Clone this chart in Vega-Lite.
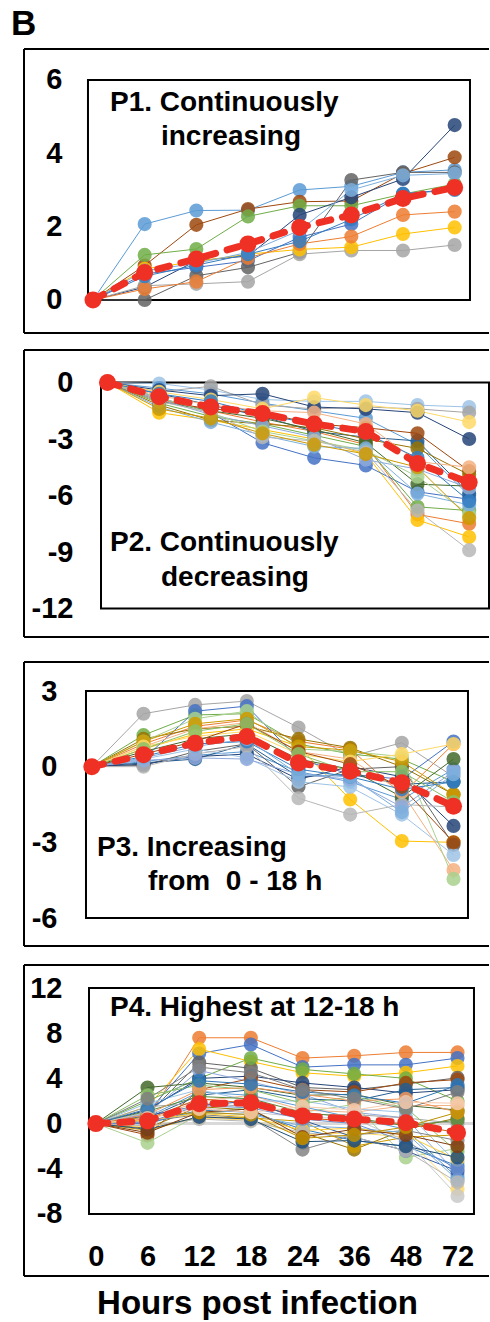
{
"$schema": "https://vega.github.io/schema/vega-lite/v6.json",
"background": "white",
"padding": {"left": 11, "right": 0, "top": 7, "bottom": 0},
"title": {"text": "B", "anchor": "start", "fontSize": 35, "font": "Liberation Sans", "fontWeight": "bold", "color": "black", "dx": -12, "offset": 6},
"datasets": {
"p1": [
{"s":"c1","h":0,"v":0},{"s":"c1","h":6,"v":2.07},{"s":"c1","h":12,"v":2.44},{"s":"c1","h":18,"v":2.45},{"s":"c1","h":24,"v":3.0},{"s":"c1","h":36,"v":3.1},{"s":"c1","h":48,"v":3.48},{"s":"c1","h":72,"v":3.55},
{"s":"c8","h":0,"v":0},{"s":"c8","h":6,"v":0.94},{"s":"c8","h":12,"v":2.05},{"s":"c8","h":18,"v":2.48},{"s":"c8","h":24,"v":2.68},{"s":"c8","h":36,"v":2.7},{"s":"c8","h":48,"v":3.45},{"s":"c8","h":72,"v":3.89},
{"s":"c6","h":0,"v":0},{"s":"c6","h":6,"v":1.23},{"s":"c6","h":12,"v":1.39},{"s":"c6","h":18,"v":2.28},{"s":"c6","h":24,"v":2.57},{"s":"c6","h":36,"v":2.57},{"s":"c6","h":48,"v":2.89},{"s":"c6","h":72,"v":3.16},
{"s":"c11","h":0,"v":0},{"s":"c11","h":6,"v":0.35},{"s":"c11","h":12,"v":1.07},{"s":"c11","h":18,"v":1.2},{"s":"c11","h":24,"v":2.32},{"s":"c11","h":36,"v":2.8},{"s":"c11","h":48,"v":3.3},{"s":"c11","h":72,"v":4.77},
{"s":"c5","h":0,"v":0},{"s":"c5","h":6,"v":0.71},{"s":"c5","h":12,"v":0.89},{"s":"c5","h":18,"v":1.07},{"s":"c5","h":24,"v":1.71},{"s":"c5","h":36,"v":2.07},{"s":"c5","h":48,"v":2.89},{"s":"c5","h":72,"v":3.03},
{"s":"c9","h":0,"v":0},{"s":"c9","h":6,"v":0.0},{"s":"c9","h":12,"v":0.66},{"s":"c9","h":18,"v":0.89},{"s":"c9","h":24,"v":1.3},{"s":"c9","h":36,"v":3.27},{"s":"c9","h":48,"v":3.48},{"s":"c9","h":72,"v":3.48},
{"s":"c3","h":0,"v":0},{"s":"c3","h":6,"v":0.39},{"s":"c3","h":12,"v":0.44},{"s":"c3","h":18,"v":0.5},{"s":"c3","h":24,"v":1.25},{"s":"c3","h":36,"v":1.35},{"s":"c3","h":48,"v":1.35},{"s":"c3","h":72,"v":1.5},
{"s":"c4","h":0,"v":0},{"s":"c4","h":6,"v":0.85},{"s":"c4","h":12,"v":1.05},{"s":"c4","h":18,"v":1.25},{"s":"c4","h":24,"v":1.38},{"s":"c4","h":36,"v":1.44},{"s":"c4","h":48,"v":1.8},{"s":"c4","h":72,"v":1.98},
{"s":"c2","h":0,"v":0},{"s":"c2","h":6,"v":0.3},{"s":"c2","h":12,"v":0.5},{"s":"c2","h":18,"v":1.15},{"s":"c2","h":24,"v":1.53},{"s":"c2","h":36,"v":1.73},{"s":"c2","h":48,"v":2.32},{"s":"c2","h":72,"v":2.41},
{"s":"c13","h":0,"v":0},{"s":"c13","h":6,"v":0.8},{"s":"c13","h":12,"v":1.0},{"s":"c13","h":18,"v":1.3},{"s":"c13","h":24,"v":1.9},{"s":"c13","h":36,"v":3.0},{"s":"c13","h":48,"v":3.4},{"s":"c13","h":72,"v":3.45},
{"s":"c19","h":0,"v":0},{"s":"c19","h":6,"v":0.65},{"s":"c19","h":12,"v":0.95},{"s":"c19","h":18,"v":1.25},{"s":"c19","h":24,"v":1.6},{"s":"c19","h":36,"v":2.2},{"s":"c19","h":48,"v":2.9},{"s":"c19","h":72,"v":3.0}
],
"p1m": [{"h":0,"v":0},{"h":6,"v":0.75},{"h":12,"v":1.12},{"h":18,"v":1.53},{"h":24,"v":1.98},{"h":36,"v":2.32},{"h":48,"v":2.77},{"h":72,"v":3.07}],
"p2": [
{"s":"c25","h":0,"v":0},{"s":"c25","h":6,"v":-0.05},{"s":"c25","h":12,"v":-0.4},{"s":"c25","h":18,"v":-0.9},{"s":"c25","h":24,"v":-1.0},{"s":"c25","h":36,"v":-1.0},{"s":"c25","h":48,"v":-1.2},{"s":"c25","h":72,"v":-1.3},
{"s":"c1","h":0,"v":0},{"s":"c1","h":6,"v":-0.3},{"s":"c1","h":12,"v":-0.6},{"s":"c1","h":18,"v":-1.1},{"s":"c1","h":24,"v":-1.5},{"s":"c1","h":36,"v":-1.9},{"s":"c1","h":48,"v":-3.3},{"s":"c1","h":72,"v":-6.0},
{"s":"c2","h":0,"v":0},{"s":"c2","h":6,"v":-0.9},{"s":"c2","h":12,"v":-1.5},{"s":"c2","h":18,"v":-2.1},{"s":"c2","h":24,"v":-2.6},{"s":"c2","h":36,"v":-3.3},{"s":"c2","h":48,"v":-7.0},{"s":"c2","h":72,"v":-7.5},
{"s":"c3","h":0,"v":0},{"s":"c3","h":6,"v":-0.5},{"s":"c3","h":12,"v":-0.2},{"s":"c3","h":18,"v":-1.2},{"s":"c3","h":24,"v":-1.4},{"s":"c3","h":36,"v":-1.3},{"s":"c3","h":48,"v":-1.4},{"s":"c3","h":72,"v":-1.6},
{"s":"c4","h":0,"v":0},{"s":"c4","h":6,"v":-1.6},{"s":"c4","h":12,"v":-2.0},{"s":"c4","h":18,"v":-2.5},{"s":"c4","h":24,"v":-3.0},{"s":"c4","h":36,"v":-3.8},{"s":"c4","h":48,"v":-7.3},{"s":"c4","h":72,"v":-8.2},
{"s":"c5","h":0,"v":0},{"s":"c5","h":6,"v":-0.8},{"s":"c5","h":12,"v":-1.6},{"s":"c5","h":18,"v":-3.2},{"s":"c5","h":24,"v":-4.0},{"s":"c5","h":36,"v":-4.4},{"s":"c5","h":48,"v":-5.8},{"s":"c5","h":72,"v":-6.2},
{"s":"c6","h":0,"v":0},{"s":"c6","h":6,"v":-1.1},{"s":"c6","h":12,"v":-1.8},{"s":"c6","h":18,"v":-2.2},{"s":"c6","h":24,"v":-2.8},{"s":"c6","h":36,"v":-3.4},{"s":"c6","h":48,"v":-6.6},{"s":"c6","h":72,"v":-6.8},
{"s":"c7","h":0,"v":0},{"s":"c7","h":6,"v":-0.6},{"s":"c7","h":12,"v":-1.2},{"s":"c7","h":18,"v":-1.8},{"s":"c7","h":24,"v":-2.6},{"s":"c7","h":36,"v":-2.9},{"s":"c7","h":48,"v":-3.1},{"s":"c7","h":72,"v":-5.9},
{"s":"c8","h":0,"v":0},{"s":"c8","h":6,"v":-1.0},{"s":"c8","h":12,"v":-1.4},{"s":"c8","h":18,"v":-1.6},{"s":"c8","h":24,"v":-2.2},{"s":"c8","h":36,"v":-2.4},{"s":"c8","h":48,"v":-2.7},{"s":"c8","h":72,"v":-4.7},
{"s":"c10","h":0,"v":0},{"s":"c10","h":6,"v":-1.2},{"s":"c10","h":12,"v":-2.0},{"s":"c10","h":18,"v":-2.2},{"s":"c10","h":24,"v":-2.4},{"s":"c10","h":36,"v":-3.0},{"s":"c10","h":48,"v":-3.5},{"s":"c10","h":72,"v":-4.9},
{"s":"c11","h":0,"v":0},{"s":"c11","h":6,"v":-0.4},{"s":"c11","h":12,"v":-0.7},{"s":"c11","h":18,"v":-0.6},{"s":"c11","h":24,"v":-1.3},{"s":"c11","h":36,"v":-1.4},{"s":"c11","h":48,"v":-1.6},{"s":"c11","h":72,"v":-3.0},
{"s":"c12","h":0,"v":0},{"s":"c12","h":6,"v":-1.0},{"s":"c12","h":12,"v":-1.5},{"s":"c12","h":18,"v":-1.9},{"s":"c12","h":24,"v":-2.5},{"s":"c12","h":36,"v":-3.2},{"s":"c12","h":48,"v":-5.4},{"s":"c12","h":72,"v":-5.5},
{"s":"c26","h":0,"v":0},{"s":"c26","h":6,"v":-0.7},{"s":"c26","h":12,"v":-1.2},{"s":"c26","h":18,"v":-1.5},{"s":"c26","h":24,"v":-1.6},{"s":"c26","h":36,"v":-2.2},{"s":"c26","h":48,"v":-4.2},{"s":"c26","h":72,"v":-4.5},
{"s":"c28","h":0,"v":0},{"s":"c28","h":6,"v":-0.5},{"s":"c28","h":12,"v":-0.9},{"s":"c28","h":18,"v":-1.4},{"s":"c28","h":24,"v":-0.8},{"s":"c28","h":36,"v":-1.2},{"s":"c28","h":48,"v":-1.5},{"s":"c28","h":72,"v":-2.1},
{"s":"c29","h":0,"v":0},{"s":"c29","h":6,"v":-0.9},{"s":"c29","h":12,"v":-1.7},{"s":"c29","h":18,"v":-2.3},{"s":"c29","h":24,"v":-2.9},{"s":"c29","h":36,"v":-4.1},{"s":"c29","h":48,"v":-4.6},{"s":"c29","h":72,"v":-5.6},
{"s":"c30","h":0,"v":0},{"s":"c30","h":6,"v":-0.8},{"s":"c30","h":12,"v":-1.6},{"s":"c30","h":18,"v":-2.6},{"s":"c30","h":24,"v":-3.1},{"s":"c30","h":36,"v":-3.6},{"s":"c30","h":48,"v":-5.0},{"s":"c30","h":72,"v":-7.0},
{"s":"c13","h":0,"v":0},{"s":"c13","h":6,"v":-1.3},{"s":"c13","h":12,"v":-2.1},{"s":"c13","h":18,"v":-2.8},{"s":"c13","h":24,"v":-3.4},{"s":"c13","h":36,"v":-3.5},{"s":"c13","h":48,"v":-5.9},{"s":"c13","h":72,"v":-6.5},
{"s":"c15","h":0,"v":0},{"s":"c15","h":6,"v":-1.0},{"s":"c15","h":12,"v":-1.6},{"s":"c15","h":18,"v":-2.9},{"s":"c15","h":24,"v":-3.1},{"s":"c15","h":36,"v":-3.7},{"s":"c15","h":48,"v":-6.8},{"s":"c15","h":72,"v":-8.9},
{"s":"c22","h":0,"v":0},{"s":"c22","h":6,"v":-1.4},{"s":"c22","h":12,"v":-1.9},{"s":"c22","h":18,"v":-2.7},{"s":"c22","h":24,"v":-3.3},{"s":"c22","h":36,"v":-3.8},{"s":"c22","h":48,"v":-4.5},{"s":"c22","h":72,"v":-7.2},
{"s":"c19","h":0,"v":0},{"s":"c19","h":6,"v":-0.6},{"s":"c19","h":12,"v":-1.0},{"s":"c19","h":18,"v":-1.7},{"s":"c19","h":24,"v":-2.2},{"s":"c19","h":36,"v":-2.7},{"s":"c19","h":48,"v":-4.0},{"s":"c19","h":72,"v":-6.3}
],
"p2m": [{"h":0,"v":0},{"h":6,"v":-0.75},{"h":12,"v":-1.3},{"h":18,"v":-1.65},{"h":24,"v":-2.2},{"h":36,"v":-2.6},{"h":48,"v":-4.3},{"h":72,"v":-5.3}],
"p3": [
{"s":"c3","h":0,"v":0},{"s":"c3","h":6,"v":2.1},{"s":"c3","h":12,"v":2.45},{"s":"c3","h":18,"v":2.6},{"s":"c3","h":24,"v":1.55},{"s":"c3","h":36,"v":0.4},{"s":"c3","h":48,"v":0.95},{"s":"c3","h":72,"v":-0.4},
{"s":"c6","h":0,"v":0},{"s":"c6","h":6,"v":1.25},{"s":"c6","h":12,"v":2.05},{"s":"c6","h":18,"v":2.1},{"s":"c6","h":24,"v":0.9},{"s":"c6","h":36,"v":0.5},{"s":"c6","h":48,"v":0.3},{"s":"c6","h":72,"v":-0.6},
{"s":"c2","h":0,"v":0},{"s":"c2","h":6,"v":0.9},{"s":"c2","h":12,"v":1.6},{"s":"c2","h":18,"v":1.85},{"s":"c2","h":24,"v":1.0},{"s":"c2","h":36,"v":0.7},{"s":"c2","h":48,"v":-1.1},{"s":"c2","h":72,"v":0.9},
{"s":"c4","h":0,"v":0},{"s":"c4","h":6,"v":0.7},{"s":"c4","h":12,"v":1.3},{"s":"c4","h":18,"v":1.5},{"s":"c4","h":24,"v":0.8},{"s":"c4","h":36,"v":-1.3},{"s":"c4","h":48,"v":-2.95},{"s":"c4","h":72,"v":-3.0},
{"s":"c5","h":0,"v":0},{"s":"c5","h":6,"v":0.3},{"s":"c5","h":12,"v":2.2},{"s":"c5","h":18,"v":2.4},{"s":"c5","h":24,"v":0.3},{"s":"c5","h":36,"v":-0.3},{"s":"c5","h":48,"v":-0.5},{"s":"c5","h":72,"v":1.0},
{"s":"c10","h":0,"v":0},{"s":"c10","h":6,"v":1.1},{"s":"c10","h":12,"v":1.5},{"s":"c10","h":18,"v":1.6},{"s":"c10","h":24,"v":1.1},{"s":"c10","h":36,"v":0.75},{"s":"c10","h":48,"v":0.0},{"s":"c10","h":72,"v":-1.1},
{"s":"c1","h":0,"v":0},{"s":"c1","h":6,"v":0.2},{"s":"c1","h":12,"v":0.45},{"s":"c1","h":18,"v":0.6},{"s":"c1","h":24,"v":-0.2},{"s":"c1","h":36,"v":-0.6},{"s":"c1","h":48,"v":-1.3},{"s":"c1","h":72,"v":-0.1},
{"s":"c7","h":0,"v":0},{"s":"c7","h":6,"v":0.15},{"s":"c7","h":12,"v":0.3},{"s":"c7","h":18,"v":0.9},{"s":"c7","h":24,"v":-0.4},{"s":"c7","h":36,"v":-0.3},{"s":"c7","h":48,"v":-0.7},{"s":"c7","h":72,"v":-0.6},
{"s":"c9","h":0,"v":0},{"s":"c9","h":6,"v":0.05},{"s":"c9","h":12,"v":0.6},{"s":"c9","h":18,"v":0.9},{"s":"c9","h":24,"v":-0.8},{"s":"c9","h":36,"v":-0.1},{"s":"c9","h":48,"v":0.0},{"s":"c9","h":72,"v":-3.1},
{"s":"c11","h":0,"v":0},{"s":"c11","h":6,"v":0.1},{"s":"c11","h":12,"v":0.4},{"s":"c11","h":18,"v":0.5},{"s":"c11","h":24,"v":-0.5},{"s":"c11","h":36,"v":0.0},{"s":"c11","h":48,"v":-0.4},{"s":"c11","h":72,"v":-2.35},
{"s":"c12","h":0,"v":0},{"s":"c12","h":6,"v":0.6},{"s":"c12","h":12,"v":1.1},{"s":"c12","h":18,"v":1.3},{"s":"c12","h":24,"v":0.3},{"s":"c12","h":36,"v":-0.1},{"s":"c12","h":48,"v":-1.2},{"s":"c12","h":72,"v":0.3},
{"s":"c25","h":0,"v":0},{"s":"c25","h":6,"v":0.3},{"s":"c25","h":12,"v":0.7},{"s":"c25","h":18,"v":0.35},{"s":"c25","h":24,"v":-0.6},{"s":"c25","h":36,"v":-0.8},{"s":"c25","h":48,"v":-1.9},{"s":"c25","h":72,"v":-3.5},
{"s":"c26","h":0,"v":0},{"s":"c26","h":6,"v":0.8},{"s":"c26","h":12,"v":1.5},{"s":"c26","h":18,"v":1.75},{"s":"c26","h":24,"v":0.6},{"s":"c26","h":36,"v":0.3},{"s":"c26","h":48,"v":-1.0},{"s":"c26","h":72,"v":-4.1},
{"s":"c30","h":0,"v":0},{"s":"c30","h":6,"v":1.0},{"s":"c30","h":12,"v":1.9},{"s":"c30","h":18,"v":2.2},{"s":"c30","h":24,"v":0.7},{"s":"c30","h":36,"v":0.6},{"s":"c30","h":48,"v":0.4},{"s":"c30","h":72,"v":-4.45},
{"s":"c15","h":0,"v":0},{"s":"c15","h":6,"v":0.0},{"s":"c15","h":12,"v":0.5},{"s":"c15","h":18,"v":0.8},{"s":"c15","h":24,"v":-1.25},{"s":"c15","h":36,"v":-1.9},{"s":"c15","h":48,"v":-1.5},{"s":"c15","h":72,"v":-1.6},
{"s":"c29","h":0,"v":0},{"s":"c29","h":6,"v":0.25},{"s":"c29","h":12,"v":0.35},{"s":"c29","h":18,"v":0.3},{"s":"c29","h":24,"v":-0.3},{"s":"c29","h":36,"v":-0.5},{"s":"c29","h":48,"v":-1.6},{"s":"c29","h":72,"v":-0.2},
{"s":"c22","h":0,"v":0},{"s":"c22","h":6,"v":1.0},{"s":"c22","h":12,"v":1.7},{"s":"c22","h":18,"v":1.9},{"s":"c22","h":24,"v":0.8},{"s":"c22","h":36,"v":0.65},{"s":"c22","h":48,"v":0.2},{"s":"c22","h":72,"v":-1.1},
{"s":"c19","h":0,"v":0},{"s":"c19","h":6,"v":0.4},{"s":"c19","h":12,"v":0.9},{"s":"c19","h":18,"v":1.0},{"s":"c19","h":24,"v":-0.1},{"s":"c19","h":36,"v":-0.4},{"s":"c19","h":48,"v":-0.9},{"s":"c19","h":72,"v":-0.6},
{"s":"c28","h":0,"v":0},{"s":"c28","h":6,"v":0.8},{"s":"c28","h":12,"v":1.2},{"s":"c28","h":18,"v":1.4},{"s":"c28","h":24,"v":0.5},{"s":"c28","h":36,"v":0.2},{"s":"c28","h":48,"v":0.5},{"s":"c28","h":72,"v":0.9},
{"s":"c8","h":0,"v":0},{"s":"c8","h":6,"v":0.5},{"s":"c8","h":12,"v":1.0},{"s":"c8","h":18,"v":1.7},{"s":"c8","h":24,"v":0.6},{"s":"c8","h":36,"v":0.1},{"s":"c8","h":48,"v":-0.8},{"s":"c8","h":72,"v":-3.0},
{"s":"c13","h":0,"v":0},{"s":"c13","h":6,"v":0.35},{"s":"c13","h":12,"v":0.8},{"s":"c13","h":18,"v":1.1},{"s":"c13","h":24,"v":-0.3},{"s":"c13","h":36,"v":-0.4},{"s":"c13","h":48,"v":-1.8},{"s":"c13","h":72,"v":-0.3},
{"s":"c18","h":0,"v":0},{"s":"c18","h":6,"v":0.7},{"s":"c18","h":12,"v":1.4},{"s":"c18","h":18,"v":1.7},{"s":"c18","h":24,"v":0.5},{"s":"c18","h":36,"v":-0.2},{"s":"c18","h":48,"v":-0.2},{"s":"c18","h":72,"v":-1.4}
],
"p3m": [{"h":0,"v":0},{"h":6,"v":0.47},{"h":12,"v":0.93},{"h":18,"v":1.2},{"h":24,"v":0.15},{"h":36,"v":-0.18},{"h":48,"v":-0.64},{"h":72,"v":-1.57}],
"p4": [
{"s":"c2","h":0,"v":0},{"s":"c2","h":6,"v":0.5},{"s":"c2","h":12,"v":7.6},{"s":"c2","h":18,"v":7.6},{"s":"c2","h":24,"v":5.8},{"s":"c2","h":36,"v":6.0},{"s":"c2","h":48,"v":6.3},{"s":"c2","h":72,"v":6.3},
{"s":"c5","h":0,"v":0},{"s":"c5","h":6,"v":1.0},{"s":"c5","h":12,"v":6.2},{"s":"c5","h":18,"v":7.0},{"s":"c5","h":24,"v":5.0},{"s":"c5","h":36,"v":5.2},{"s":"c5","h":48,"v":5.2},{"s":"c5","h":72,"v":5.8},
{"s":"c4","h":0,"v":0},{"s":"c4","h":6,"v":1.5},{"s":"c4","h":12,"v":6.6},{"s":"c4","h":18,"v":5.5},{"s":"c4","h":24,"v":4.5},{"s":"c4","h":36,"v":4.2},{"s":"c4","h":48,"v":4.5},{"s":"c4","h":72,"v":5.1},
{"s":"c9","h":0,"v":0},{"s":"c9","h":6,"v":0.8},{"s":"c9","h":12,"v":5.4},{"s":"c9","h":18,"v":4.9},{"s":"c9","h":24,"v":3.2},{"s":"c9","h":36,"v":3.0},{"s":"c9","h":48,"v":3.5},{"s":"c9","h":72,"v":4.05},
{"s":"c6","h":0,"v":0},{"s":"c6","h":6,"v":2.0},{"s":"c6","h":12,"v":4.0},{"s":"c6","h":18,"v":5.8},{"s":"c6","h":24,"v":4.8},{"s":"c6","h":36,"v":4.4},{"s":"c6","h":48,"v":4.0},{"s":"c6","h":72,"v":2.0},
{"s":"c12","h":0,"v":0},{"s":"c12","h":6,"v":3.2},{"s":"c12","h":12,"v":3.6},{"s":"c12","h":18,"v":3.2},{"s":"c12","h":24,"v":2.5},{"s":"c12","h":36,"v":2.6},{"s":"c12","h":48,"v":1.6},{"s":"c12","h":72,"v":1.2},
{"s":"c11","h":0,"v":0},{"s":"c11","h":6,"v":1.2},{"s":"c11","h":12,"v":4.0},{"s":"c11","h":18,"v":4.2},{"s":"c11","h":24,"v":3.6},{"s":"c11","h":36,"v":3.2},{"s":"c11","h":48,"v":2.7},{"s":"c11","h":72,"v":3.0},
{"s":"c29","h":0,"v":0},{"s":"c29","h":6,"v":0.9},{"s":"c29","h":12,"v":4.7},{"s":"c29","h":18,"v":3.7},{"s":"c29","h":24,"v":2.6},{"s":"c29","h":36,"v":1.0},{"s":"c29","h":48,"v":0.5},{"s":"c29","h":72,"v":-4.5},
{"s":"c8","h":0,"v":0},{"s":"c8","h":6,"v":-1.0},{"s":"c8","h":12,"v":3.0},{"s":"c8","h":18,"v":4.0},{"s":"c8","h":24,"v":3.0},{"s":"c8","h":36,"v":2.8},{"s":"c8","h":48,"v":3.6},{"s":"c8","h":72,"v":3.9},
{"s":"c7","h":0,"v":0},{"s":"c7","h":6,"v":0.5},{"s":"c7","h":12,"v":2.5},{"s":"c7","h":18,"v":3.0},{"s":"c7","h":24,"v":2.2},{"s":"c7","h":36,"v":2.0},{"s":"c7","h":48,"v":3.0},{"s":"c7","h":72,"v":3.2},
{"s":"c10","h":0,"v":0},{"s":"c10","h":6,"v":-0.4},{"s":"c10","h":12,"v":1.5},{"s":"c10","h":18,"v":1.2},{"s":"c10","h":24,"v":-0.8},{"s":"c10","h":36,"v":-2.3},{"s":"c10","h":48,"v":-0.5},{"s":"c10","h":72,"v":0.5},
{"s":"c30","h":0,"v":0},{"s":"c30","h":6,"v":-1.7},{"s":"c30","h":12,"v":0.8},{"s":"c30","h":18,"v":1.5},{"s":"c30","h":24,"v":1.0},{"s":"c30","h":36,"v":1.7},{"s":"c30","h":48,"v":-3.0},{"s":"c30","h":72,"v":-2.2},
{"s":"c26","h":0,"v":0},{"s":"c26","h":6,"v":0.3},{"s":"c26","h":12,"v":2.0},{"s":"c26","h":18,"v":2.5},{"s":"c26","h":24,"v":1.2},{"s":"c26","h":36,"v":1.0},{"s":"c26","h":48,"v":1.6},{"s":"c26","h":72,"v":1.6},
{"s":"c1","h":0,"v":0},{"s":"c1","h":6,"v":0.6},{"s":"c1","h":12,"v":2.8},{"s":"c1","h":18,"v":2.5},{"s":"c1","h":24,"v":1.5},{"s":"c1","h":36,"v":0.5},{"s":"c1","h":48,"v":-0.5},{"s":"c1","h":72,"v":-4.8},
{"s":"c3","h":0,"v":0},{"s":"c3","h":6,"v":1.5},{"s":"c3","h":12,"v":1.8},{"s":"c3","h":18,"v":1.5},{"s":"c3","h":24,"v":0.8},{"s":"c3","h":36,"v":0.8},{"s":"c3","h":48,"v":0.5},{"s":"c3","h":72,"v":0.0},
{"s":"c28","h":0,"v":0},{"s":"c28","h":6,"v":-0.3},{"s":"c28","h":12,"v":0.5},{"s":"c28","h":18,"v":0.3},{"s":"c28","h":24,"v":-1.0},{"s":"c28","h":36,"v":-0.8},{"s":"c28","h":48,"v":-1.2},{"s":"c28","h":72,"v":-5.8},
{"s":"c25","h":0,"v":0},{"s":"c25","h":6,"v":1.8},{"s":"c25","h":12,"v":3.0},{"s":"c25","h":18,"v":2.0},{"s":"c25","h":24,"v":2.0},{"s":"c25","h":36,"v":1.3},{"s":"c25","h":48,"v":1.0},{"s":"c25","h":72,"v":-3.5},
{"s":"c21","h":0,"v":0},{"s":"c21","h":6,"v":0.2},{"s":"c21","h":12,"v":0.8},{"s":"c21","h":18,"v":0.5},{"s":"c21","h":24,"v":-2.3},{"s":"c21","h":36,"v":-1.0},{"s":"c21","h":48,"v":-0.6},{"s":"c21","h":72,"v":-1.5},
{"s":"c19","h":0,"v":0},{"s":"c19","h":6,"v":0.0},{"s":"c19","h":12,"v":1.2},{"s":"c19","h":18,"v":1.0},{"s":"c19","h":24,"v":-0.5},{"s":"c19","h":36,"v":-1.5},{"s":"c19","h":48,"v":-2.0},{"s":"c19","h":72,"v":-3.75},
{"s":"c18","h":0,"v":0},{"s":"c18","h":6,"v":2.5},{"s":"c18","h":12,"v":3.4},{"s":"c18","h":18,"v":3.0},{"s":"c18","h":24,"v":1.8},{"s":"c18","h":36,"v":2.4},{"s":"c18","h":48,"v":1.4},{"s":"c18","h":72,"v":-2.5},
{"s":"c22","h":0,"v":0},{"s":"c22","h":6,"v":-0.6},{"s":"c22","h":12,"v":0.6},{"s":"c22","h":18,"v":0.5},{"s":"c22","h":24,"v":0.2},{"s":"c22","h":36,"v":-2.0},{"s":"c22","h":48,"v":-1.2},{"s":"c22","h":72,"v":-1.0},
{"s":"c20","h":0,"v":0},{"s":"c20","h":6,"v":0.4},{"s":"c20","h":12,"v":2.2},{"s":"c20","h":18,"v":1.8},{"s":"c20","h":24,"v":0.5},{"s":"c20","h":36,"v":0.2},{"s":"c20","h":48,"v":0.0},{"s":"c20","h":72,"v":-0.8},
{"s":"c23","h":0,"v":0},{"s":"c23","h":6,"v":0.7},{"s":"c23","h":12,"v":1.6},{"s":"c23","h":18,"v":2.0},{"s":"c23","h":24,"v":0.3},{"s":"c23","h":36,"v":-1.2},{"s":"c23","h":48,"v":-2.4},{"s":"c23","h":72,"v":-4.2},
{"s":"c24","h":0,"v":0},{"s":"c24","h":6,"v":1.1},{"s":"c24","h":12,"v":2.4},{"s":"c24","h":18,"v":2.2},{"s":"c24","h":24,"v":1.0},{"s":"c24","h":36,"v":0.5},{"s":"c24","h":48,"v":-0.2},{"s":"c24","h":72,"v":0.3},
{"s":"c13","h":0,"v":0},{"s":"c13","h":6,"v":0.2},{"s":"c13","h":12,"v":1.0},{"s":"c13","h":18,"v":0.8},{"s":"c13","h":24,"v":-0.2},{"s":"c13","h":36,"v":-0.4},{"s":"c13","h":48,"v":-0.8},{"s":"c13","h":72,"v":-5.0},
{"s":"c14","h":0,"v":0},{"s":"c14","h":6,"v":0.8},{"s":"c14","h":12,"v":3.0},{"s":"c14","h":18,"v":3.2},{"s":"c14","h":24,"v":2.6},{"s":"c14","h":36,"v":2.0},{"s":"c14","h":48,"v":2.2},{"s":"c14","h":72,"v":1.0},
{"s":"c27","h":0,"v":0},{"s":"c27","h":6,"v":1.0},{"s":"c27","h":12,"v":1.4},{"s":"c27","h":18,"v":1.0},{"s":"c27","h":24,"v":0.6},{"s":"c27","h":36,"v":0.4},{"s":"c27","h":48,"v":-1.5},{"s":"c27","h":72,"v":-6.4},
{"s":"c16","h":0,"v":0},{"s":"c16","h":6,"v":0.3},{"s":"c16","h":12,"v":0.9},{"s":"c16","h":18,"v":0.6},{"s":"c16","h":24,"v":-0.6},{"s":"c16","h":36,"v":-0.4},{"s":"c16","h":48,"v":-1.0},{"s":"c16","h":72,"v":-3.2},
{"s":"c17","h":0,"v":0},{"s":"c17","h":6,"v":0.1},{"s":"c17","h":12,"v":1.6},{"s":"c17","h":18,"v":1.4},{"s":"c17","h":24,"v":0.4},{"s":"c17","h":36,"v":0.0},{"s":"c17","h":48,"v":-1.6},{"s":"c17","h":72,"v":-4.0},
{"s":"c15","h":0,"v":0},{"s":"c15","h":6,"v":-0.2},{"s":"c15","h":12,"v":0.4},{"s":"c15","h":18,"v":0.2},{"s":"c15","h":24,"v":-0.8},{"s":"c15","h":36,"v":-1.2},{"s":"c15","h":48,"v":-2.4},{"s":"c15","h":72,"v":-5.2},
{"s":"c31","h":0,"v":0},{"s":"c31","h":6,"v":-0.5},{"s":"c31","h":12,"v":0.6},{"s":"c31","h":18,"v":0.4},{"s":"c31","h":24,"v":-1.6},{"s":"c31","h":36,"v":-1.5},{"s":"c31","h":48,"v":-2.0},{"s":"c31","h":72,"v":-3.0},
{"s":"c32","h":0,"v":0},{"s":"c32","h":6,"v":-0.8},{"s":"c32","h":12,"v":1.0},{"s":"c32","h":18,"v":1.3},{"s":"c32","h":24,"v":-1.2},{"s":"c32","h":36,"v":-0.5},{"s":"c32","h":48,"v":-1.0},{"s":"c32","h":72,"v":-2.0},
{"s":"c33","h":0,"v":0},{"s":"c33","h":6,"v":0.6},{"s":"c33","h":12,"v":1.0},{"s":"c33","h":18,"v":0.8},{"s":"c33","h":24,"v":-1.3},{"s":"c33","h":36,"v":-1.0},{"s":"c33","h":48,"v":-0.3},{"s":"c33","h":72,"v":1.0},
{"s":"c34","h":0,"v":0},{"s":"c34","h":6,"v":1.3},{"s":"c34","h":12,"v":3.8},{"s":"c34","h":18,"v":3.5},{"s":"c34","h":24,"v":2.8},{"s":"c34","h":36,"v":2.5},{"s":"c34","h":48,"v":1.8},{"s":"c34","h":72,"v":3.4},
{"s":"c35","h":0,"v":0},{"s":"c35","h":6,"v":2.2},{"s":"c35","h":12,"v":5.0},{"s":"c35","h":18,"v":4.5},{"s":"c35","h":24,"v":3.0},{"s":"c35","h":36,"v":2.2},{"s":"c35","h":48,"v":1.3},{"s":"c35","h":72,"v":2.8},
{"s":"c36","h":0,"v":0},{"s":"c36","h":6,"v":0.5},{"s":"c36","h":12,"v":1.3},{"s":"c36","h":18,"v":1.0},{"s":"c36","h":24,"v":1.5},{"s":"c36","h":36,"v":1.2},{"s":"c36","h":48,"v":1.9},{"s":"c36","h":72,"v":1.8}
],
"p4m": [{"h":0,"v":0},{"h":6,"v":0.23},{"h":12,"v":1.75},{"h":18,"v":1.85},{"h":24,"v":0.67},{"h":36,"v":0.4},{"h":48,"v":0.08},{"h":72,"v":-0.8}]
},
"columns": 1,
"spacing": 23,
"concat": [
{"columns": 1, "spacing": 15, "concat": [
{
"width": 465, "height": 284,
"resolve": {"scale": {"x": "independent"}},
"layer": [
{"data": {"values": [{}]},
 "encoding": {
  "x": {"datum": 0, "type": "quantitative", "scale": {"domain": [0, 1], "nice": false, "zero": false}, "axis": null},
  "y": {"datum": 6.845, "type": "quantitative", "scale": {"domain": [-0.9, 6.845], "nice": false, "zero": false}}
 },
 "layer": [
  {"mark": {"type": "rule", "color": "black", "strokeWidth": 2}, "encoding": {"x2": {"datum": 1}}},
  {"mark": {"type": "rule", "color": "black", "strokeWidth": 2}, "encoding": {"x2": {"datum": 1}, "y": {"datum": -0.9, "type": "quantitative"}}},
  {"mark": {"type": "rule", "color": "black", "strokeWidth": 2}, "encoding": {"y": {"datum": -0.9, "type": "quantitative"}, "y2": {"datum": 6.845}}},
  {"mark": {"type": "rect", "filled": false, "stroke": "black", "strokeWidth": 2}, "encoding": {"x": {"datum": 0.1376, "type": "quantitative"}, "x2": {"datum": 0.9591}, "y": {"datum": 0, "type": "quantitative"}, "y2": {"datum": 6}}},
  {"mark": {"type": "text", "text": "P1. Continuously", "align": "left", "baseline": "alphabetic", "fontSize": 28, "fontWeight": "bold", "font": "Liberation Sans", "color": "black"}, "encoding": {"x": {"datum": 0.1849, "type": "quantitative"}, "y": {"datum": 5.15, "type": "quantitative"}}},
  {"mark": {"type": "text", "text": "increasing", "align": "left", "baseline": "alphabetic", "fontSize": 28, "fontWeight": "bold", "font": "Liberation Sans", "color": "black"}, "encoding": {"x": {"datum": 0.2946, "type": "quantitative"}, "y": {"datum": 4.23, "type": "quantitative"}}}
 ]},
{"data": {"name": "p1"},
 "encoding": {
  "x": {"field": "h", "type": "ordinal", "scale": {"type": "point", "padding": 1.3845, "align": 0.6677, "domain": [0, 6, 12, 18, 24, 36, 48, 72]}, "axis": null},
  "y": {"field": "v", "type": "quantitative", "scale": {"domain": [-0.9, 6.845], "nice": false, "zero": false}, "axis": {"values": [0, 2, 4, 6], "title": null, "offset": -38, "labelPadding": 0}}
 },
 "layer": [
  {"mark": {"type": "line", "strokeWidth": 1}, "encoding": {"color": {"field": "s", "type": "nominal", "legend": null, "scale": {"domain": ["c1","c2","c3","c4","c5","c6","c7","c8","c9","c10","c11","c12","c13","c14","c15","c16","c17","c18","c19","c20","c21","c22","c23","c24","c25","c26","c27","c28","c29","c30","c31","c32","c33","c34","c35","c36"], "range": ["#5B9BD5","#ED7D31","#A5A5A5","#FFC000","#4472C4","#70AD47","#255E91","#9E480E","#636363","#997300","#264478","#43682B","#7CAFDD","#F1975A","#B7B7B7","#FFCD33","#698ED0","#8CC168","#327DC2","#D26012","#848484","#CC9A00","#335AA1","#5A8A39","#9DC3E6","#F4B183","#C9C9C9","#FFD966","#8FAADC","#A9D18E","#1F4E79","#843C0C","#BF9000","#2E75B6","#7F7F7F","#F8CBAD"]}}}},
  {"mark": {"type": "circle", "size": 200, "opacity": 0.85}, "encoding": {"color": {"field": "s", "type": "nominal", "legend": null}}},
  {"data": {"name": "p1m"}, "mark": {"type": "line", "color": "#EE3124", "strokeWidth": 7, "strokeDash": [12, 12], "strokeCap": "round"}},
  {"data": {"name": "p1m"}, "mark": {"type": "circle", "color": "#EE3124", "size": 290, "opacity": 1}}
 ]}
]
},
{
"width": 465, "height": 287,
"resolve": {"scale": {"x": "independent"}},
"layer": [
{"data": {"values": [{}]},
 "encoding": {
  "x": {"datum": 0, "type": "quantitative", "scale": {"domain": [0, 1], "nice": false, "zero": false}, "axis": null},
  "y": {"datum": 1.726, "type": "quantitative", "scale": {"domain": [-13.51, 1.726], "nice": false, "zero": false}}
 },
 "layer": [
  {"mark": {"type": "rule", "color": "black", "strokeWidth": 2}, "encoding": {"x2": {"datum": 1}}},
  {"mark": {"type": "rule", "color": "black", "strokeWidth": 2}, "encoding": {"x2": {"datum": 1}, "y": {"datum": -13.51, "type": "quantitative"}}},
  {"mark": {"type": "rule", "color": "black", "strokeWidth": 2}, "encoding": {"y": {"datum": -13.51, "type": "quantitative"}, "y2": {"datum": 1.726}}},
  {"mark": {"type": "rect", "filled": false, "stroke": "black", "strokeWidth": 2}, "encoding": {"x": {"datum": 0.1656, "type": "quantitative"}, "x2": {"datum": 1.0}, "y": {"datum": -12, "type": "quantitative"}, "y2": {"datum": 0}}},
  {"mark": {"type": "text", "text": "P2. Continuously", "align": "left", "baseline": "alphabetic", "fontSize": 28, "fontWeight": "bold", "font": "Liberation Sans", "color": "black"}, "encoding": {"x": {"datum": 0.1849, "type": "quantitative"}, "y": {"datum": -8.95, "type": "quantitative"}}},
  {"mark": {"type": "text", "text": "decreasing", "align": "left", "baseline": "alphabetic", "fontSize": 28, "fontWeight": "bold", "font": "Liberation Sans", "color": "black"}, "encoding": {"x": {"datum": 0.2946, "type": "quantitative"}, "y": {"datum": -10.81, "type": "quantitative"}}}
 ]},
{"data": {"name": "p2"},
 "encoding": {
  "x": {"field": "h", "type": "ordinal", "scale": {"type": "point", "padding": 1.2868, "align": 0.808, "domain": [0, 6, 12, 18, 24, 36, 48, 72]}, "axis": null},
  "y": {"field": "v", "type": "quantitative", "scale": {"domain": [-13.51, 1.726], "nice": false, "zero": false}, "axis": {"values": [0, -3, -6, -9, -12], "title": null, "offset": -49, "labelPadding": 0, "labelExpr": "replace(datum.label, '\u2212', '-')"}}
 },
 "layer": [
  {"mark": {"type": "line", "strokeWidth": 1}, "encoding": {"color": {"field": "s", "type": "nominal", "legend": null}}},
  {"mark": {"type": "circle", "size": 200, "opacity": 0.85}, "encoding": {"color": {"field": "s", "type": "nominal", "legend": null}}},
  {"data": {"name": "p2m"}, "mark": {"type": "line", "color": "#EE3124", "strokeWidth": 7, "strokeDash": [12, 12], "strokeCap": "round"}},
  {"data": {"name": "p2m"}, "mark": {"type": "circle", "color": "#EE3124", "size": 290, "opacity": 1}}
 ]}
]
}
]},
{"columns": 1, "spacing": 17, "concat": [
{
"width": 465, "height": 284,
"resolve": {"scale": {"x": "independent"}},
"layer": [
{"data": {"values": [{}]},
 "encoding": {
  "x": {"datum": 0, "type": "quantitative", "scale": {"domain": [0, 1], "nice": false, "zero": false}, "axis": null},
  "y": {"datum": 4.15, "type": "quantitative", "scale": {"domain": [-7.11, 4.15], "nice": false, "zero": false}}
 },
 "layer": [
  {"mark": {"type": "rule", "color": "black", "strokeWidth": 2}, "encoding": {"x2": {"datum": 1}}},
  {"mark": {"type": "rule", "color": "black", "strokeWidth": 2}, "encoding": {"x2": {"datum": 1}, "y": {"datum": -7.11, "type": "quantitative"}}},
  {"mark": {"type": "rule", "color": "black", "strokeWidth": 2}, "encoding": {"y": {"datum": -7.11, "type": "quantitative"}, "y2": {"datum": 4.15}}},
  {"mark": {"type": "rect", "filled": false, "stroke": "black", "strokeWidth": 2}, "encoding": {"x": {"datum": 0.1333, "type": "quantitative"}, "x2": {"datum": 0.9548}, "y": {"datum": -6, "type": "quantitative"}, "y2": {"datum": 3}}},
  {"mark": {"type": "text", "text": "P3. Increasing", "align": "left", "baseline": "alphabetic", "fontSize": 28, "fontWeight": "bold", "font": "Liberation Sans", "color": "black"}, "encoding": {"x": {"datum": 0.157, "type": "quantitative"}, "y": {"datum": -3.54, "type": "quantitative"}}},
  {"mark": {"type": "text", "text": "from\u00a0 0 - 18 h", "align": "left", "baseline": "alphabetic", "fontSize": 28, "fontWeight": "bold", "font": "Liberation Sans", "color": "black"}, "encoding": {"x": {"datum": 0.2667, "type": "quantitative"}, "y": {"datum": -4.89, "type": "quantitative"}}}
 ]},
{"data": {"name": "p3"},
 "encoding": {
  "x": {"field": "h", "type": "ordinal", "scale": {"type": "point", "padding": 1.3727, "align": 0.6565, "domain": [0, 6, 12, 18, 24, 36, 48, 72]}, "axis": null},
  "y": {"field": "v", "type": "quantitative", "scale": {"domain": [-7.11, 4.15], "nice": false, "zero": false}, "axis": {"values": [3, 0, -3, -6], "title": null, "offset": -33, "labelPadding": 0, "labelExpr": "replace(datum.label, '\u2212', '-')"}}
 },
 "layer": [
  {"mark": {"type": "line", "strokeWidth": 1}, "encoding": {"color": {"field": "s", "type": "nominal", "legend": null}}},
  {"mark": {"type": "circle", "size": 200, "opacity": 0.85}, "encoding": {"color": {"field": "s", "type": "nominal", "legend": null}}},
  {"data": {"name": "p3m"}, "mark": {"type": "line", "color": "#EE3124", "strokeWidth": 7, "strokeDash": [12, 12], "strokeCap": "round"}},
  {"data": {"name": "p3m"}, "mark": {"type": "circle", "color": "#EE3124", "size": 290, "opacity": 1}}
 ]}
]
},
{
"width": 465, "height": 311,
"resolve": {"scale": {"x": "independent"}},
"layer": [
{"data": {"values": [{}]},
 "encoding": {
  "x": {"datum": 0, "type": "quantitative", "scale": {"domain": [0, 1], "nice": false, "zero": false}, "axis": null},
  "y": {"datum": 14.04, "type": "quantitative", "scale": {"domain": [-13.49, 14.04], "nice": false, "zero": false}}
 },
 "layer": [
  {"mark": {"type": "rule", "color": "black", "strokeWidth": 2}, "encoding": {"x2": {"datum": 1}}},
  {"mark": {"type": "rule", "color": "black", "strokeWidth": 2}, "encoding": {"x2": {"datum": 1}, "y": {"datum": -13.49, "type": "quantitative"}}},
  {"mark": {"type": "rule", "color": "black", "strokeWidth": 2}, "encoding": {"y": {"datum": -13.49, "type": "quantitative"}, "y2": {"datum": 14.04}}},
  {"mark": {"type": "rule", "color": "#D9D9D9", "strokeWidth": 3}, "encoding": {"x": {"datum": 0.1398, "type": "quantitative"}, "x2": {"datum": 0.9677}, "y": {"datum": 0, "type": "quantitative"}}},
  {"mark": {"type": "rect", "filled": false, "stroke": "black", "strokeWidth": 2}, "encoding": {"x": {"datum": 0.1398, "type": "quantitative"}, "x2": {"datum": 0.9677}, "y": {"datum": -8, "type": "quantitative"}, "y2": {"datum": 12}}},
  {"mark": {"type": "text", "text": "P4. Highest at 12-18 h", "align": "left", "baseline": "alphabetic", "fontSize": 28, "fontWeight": "bold", "font": "Liberation Sans", "color": "black"}, "encoding": {"x": {"datum": 0.1849, "type": "quantitative"}, "y": {"datum": 9.52, "type": "quantitative"}}}
 ]},
{"data": {"name": "p4"},
 "encoding": {
  "x": {"field": "h", "type": "ordinal", "scale": {"type": "point", "padding": 1.3293, "align": 0.6953, "domain": [0, 6, 12, 18, 24, 36, 48, 72]}, "axis": {"labelAngle": 0, "offset": -34, "labelPadding": 0, "labelBaseline": "top", "labelOverlap": false, "labelFlush": false, "title": "Hours post infection", "titleFontSize": 33, "titleX": 233, "titleY": 71, "titleAlign": "center", "titleBaseline": "alphabetic", "titleAnchor": null}},
  "y": {"field": "v", "type": "quantitative", "scale": {"domain": [-13.49, 14.04], "nice": false, "zero": false}, "axis": {"values": [12, 8, 4, 0, -4, -8], "title": null, "offset": -38, "labelPadding": 0, "labelExpr": "replace(datum.label, '\u2212', '-')"}}
 },
 "layer": [
  {"mark": {"type": "line", "strokeWidth": 1}, "encoding": {"color": {"field": "s", "type": "nominal", "legend": null}}},
  {"mark": {"type": "circle", "size": 200, "opacity": 0.85}, "encoding": {"color": {"field": "s", "type": "nominal", "legend": null}}},
  {"data": {"name": "p4m"}, "mark": {"type": "line", "color": "#EE3124", "strokeWidth": 7, "strokeDash": [12, 12], "strokeCap": "round"}},
  {"data": {"name": "p4m"}, "mark": {"type": "circle", "color": "#EE3124", "size": 290, "opacity": 1}}
 ]}
]
}
]}
],
"config": {
 "view": {"stroke": null},
 "font": "Liberation Sans",
 "axis": {"domain": false, "ticks": false, "grid": false, "labelFont": "Liberation Sans", "labelFontWeight": "bold", "labelFontSize": 29, "labelColor": "black", "labelFlush": false, "labelOverlap": false, "labelBound": false, "titleFont": "Liberation Sans", "titleFontWeight": "bold", "titleColor": "black"}
}
}
